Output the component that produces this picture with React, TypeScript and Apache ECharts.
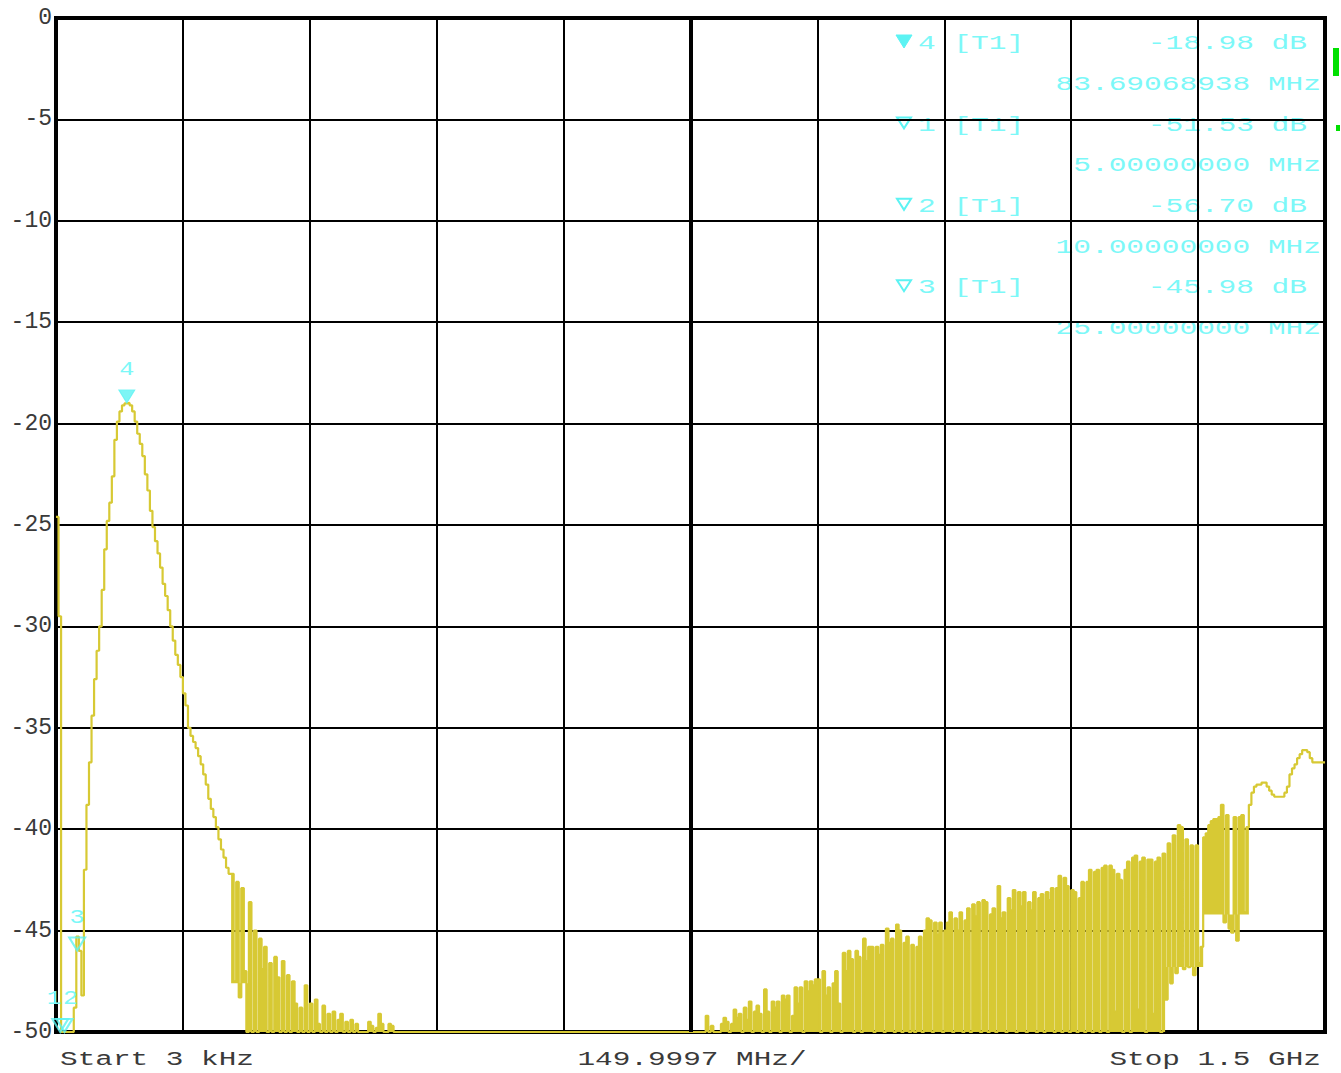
import { useEffect, useRef } from "react";
import * as echarts from "echarts";

// Sweep: 501 points from 3 kHz to 1.5 GHz
const startMHz = 0.003;
const stopMHz = 1500;
const sweepPoints = 501;
const refLevelDb = 0;
const bottomDb = -50;
const dbPerDiv = 5;
const mhzPerDiv = 150;

// Trace levels in dB, one per sweep point
const traceDb: number[] = [
  // 0-9
  -24.6, -29.5, -50, -50, -50, -50, -50, -48.8, -45.3, -46.0,
  // 10-19
  -48.2, -42.0, -38.8, -36.7, -34.4, -32.6, -31.2, -30.0, -28.2, -26.2,
  // 20-29
  -24.8, -23.9, -22.6, -20.8, -19.9, -19.4, -19.1, -19.0, -18.98, -19.1,
  // 30-39
  -19.4, -19.9, -20.5, -21.0, -21.6, -22.5, -23.3, -24.3, -25.1, -25.8,
  // 40-49
  -26.4, -27.1, -27.9, -28.5, -29.2, -30.0, -30.7, -31.4, -31.9, -32.5,
  // 50-59
  -33.3, -33.9, -35.0, -35.4, -35.7, -36.0, -36.4, -36.8, -37.3, -37.8,
  // 60-69
  -38.5, -39.0, -39.4, -39.9, -40.5, -41.0, -41.4, -41.9, -42.2, -42.2,
  // 70-79
  -47.5, -42.6, -48.3, -42.9, -47.0, -50, -43.6, -50, -45.0, -50,
  // 80-89
  -45.4, -46.9, -45.8, -50, -46.6, -50, -46.3, -47.3, -50, -46.5,
  // 90-99
  -50, -47.2, -50, -47.5, -48.6, -50, -48.8, -50, -47.7, -50,
  // 100-109
  -48.6, -50, -48.4, -49.6, -50, -48.7, -50, -49.1, -50, -49.0,
  // 110-119
  -50, -49.4, -49.1, -50, -49.5, -50, -49.4, -50, -49.6, -50,
  // 120-129
  -50, -50, -50, -49.5, -49.7, -50, -49.8, -49.1, -49.6, -50,
  // 130-139
  -50, -49.6, -49.7, -50, -50, -50, -50, -50, -50, -50,
  // 140-149
  -50, -50, -50, -50, -50, -50, -50, -50, -50, -50,
  // 150-159
  -50, -50, -50, -50, -50, -50, -50, -50, -50, -50,
  // 160-169
  -50, -50, -50, -50, -50, -50, -50, -50, -50, -50,
  // 170-179
  -50, -50, -50, -50, -50, -50, -50, -50, -50, -50,
  // 180-189
  -50, -50, -50, -50, -50, -50, -50, -50, -50, -50,
  // 190-199
  -50, -50, -50, -50, -50, -50, -50, -50, -50, -50,
  // 200-209
  -50, -50, -50, -50, -50, -50, -50, -50, -50, -50,
  // 210-219
  -50, -50, -50, -50, -50, -50, -50, -50, -50, -50,
  // 220-229
  -50, -50, -50, -50, -50, -50, -50, -50, -50, -50,
  // 230-239
  -50, -50, -50, -50, -50, -50, -50, -50, -50, -50,
  // 240-249
  -50, -50, -50, -50, -50, -50, -50, -50, -50, -50,
  // 250-259
  -50, -50, -50, -50, -50, -50, -49.2, -50, -49.7, -50,
  // 260-269
  -50, -50, -49.6, -49.3, -49.5, -50, -49.6, -48.9, -49.3, -49.1,
  // 270-279
  -50, -48.8, -49.4, -48.5, -50, -49.0, -48.7, -49.1, -50, -47.9,
  // 280-289
  -49.0, -50, -48.5, -48.8, -48.5, -50, -48.2, -48.4, -48.2, -50,
  // 290-299
  -49.2, -47.8, -48.6, -47.8, -50, -47.5, -48.0, -47.5, -47.7, -47.4,
  // 300-309
  -47.4, -50, -47.0, -48.2, -47.8, -50, -47.6, -47.0, -48.6, -50,
  // 310-319
  -46.1, -47.0, -46.0, -46.4, -50, -46.0, -46.3, -50, -45.4, -46.5,
  // 320-329
  -45.8, -45.8, -50, -45.8, -46.2, -45.7, -50, -44.9, -45.6, -45.4,
  // 330-339
  -50, -44.7, -45.0, -50, -45.6, -45.3, -50, -45.7, -50, -45.8,
  // 340-349
  -45.3, -50, -45.0, -44.4, -44.5, -50, -44.6, -45.2, -44.6, -50,
  // 350-359
  -45.0, -44.6, -44.1, -50, -44.4, -45.0, -44.1, -50, -44.5, -43.9,
  // 360-369
  -50, -43.7, -44.3, -43.6, -50, -43.5, -43.6, -50, -44.2, -43.9,
  // 370-379
  -50, -42.8, -44.4, -44.1, -50, -43.4, -44.0, -43.0, -50, -43.1,
  // 380-389
  -43.8, -43.1, -50, -43.6, -44.0, -43.1, -50, -43.4, -43.2, -50,
  // 390-399
  -43.1, -43.5, -42.9, -50, -42.9, -42.3, -50, -42.4, -42.8, -50,
  // 400-409
  -43.0, -43.1, -50, -43.4, -42.6, -50, -42.6, -42.0, -50, -42.1,
  // 410-419
  -42.0, -50, -41.9, -41.8, -50, -41.8, -42.0, -49.0, -42.2, -42.5,
  // 420-429
  -50, -42.0, -41.6, -50, -41.4, -41.3, -48.9, -41.6, -41.4, -50,
  // 430-439
  -41.5, -41.5, -49.1, -41.6, -41.4, -50, -41.2, -48.4, -40.7, -47.6,
  // 440-449
  -40.3, -47.1, -39.8, -39.9, -46.9, -40.5, -46.8, -40.8, -47.2, -40.8,
  // 450-459
  -46.6, -45.8, -40.4, -40.2, -39.8, -39.6, -39.5, -39.5, -39.4, -38.8,
  // 460-469
  -44.6, -39.3, -44.9, -45.1, -39.4, -45.5, -39.4, -39.3, -44.1, -39.9,
  // 470-479
  -38.8, -38.2, -37.9, -37.8, -37.8, -37.7, -37.7, -37.9, -38.1, -38.3,
  // 480-489
  -38.4, -38.4, -38.4, -38.4, -38.2, -37.9, -37.3, -37.0, -36.8, -36.5,
  // 490-499
  -36.3, -36.1, -36.1, -36.2, -36.5, -36.7, -36.7, -36.7, -36.7, -36.7,
  // 500
  -36.7,
];

// Sweep-point ranges where the noise trace looks filled, and the level it fills down to
const fillFrom = [69, 75, 254, 436, 452];
const fillTo = [75, 134, 436, 451, 469];
const fillDownToDb = [-47.6, -50, -50, -46.8, -44.2];

// Markers (table order)
const markerNames = ["4", "1", "2", "3"];
const markerFreqMHz = [83.69068938, 5.0, 10.0, 25.0];
const markerLevelDb = [-18.98, -51.53, -56.7, -45.98];
const markerFilled = [true, false, false, false];
const markerTrace = "[T1]";

const startLabel = "Start 3 kHz";
const spanLabel = "149.9997 MHz/";
const stopLabel = "Stop 1.5 GHz";

const TRACE = "#D7C934";
const CYAN = "#5CF3F3";
const CYAN_TEXT = "#7CF8F8";
const GREY = "#3a3a3a";
const MONO = '"Liberation Mono", "DejaVu Sans Mono", monospace';
const DOWN_TRIANGLE = "path://M0,0 L16,0 L8,13 Z";

export default function App() {
  const ref = useRef<HTMLDivElement>(null);

  useEffect(() => {
    if (!ref.current) return;
    const chart = echarts.init(ref.current, null, { renderer: "svg" });
    const step = (stopMHz - startMHz) / (sweepPoints - 1);
    const freqAt = (i: number) => startMHz + i * step;
    const trace = traceDb.map((v, i) => [freqAt(i), v]);
    const shownLevel = (k: number) => Math.max(markerLevelDb[k], bottomDb);

    const fillSeries = fillFrom.map((from, k) => ({
      type: "line",
      data: traceDb.map((v, i) => [freqAt(i), i >= from && i <= fillTo[k] ? v : "-"]),
      step: "end",
      showSymbol: false,
      symbol: "none",
      connectNulls: false,
      lineStyle: { width: 0, color: TRACE },
      areaStyle: {
        color: TRACE,
        opacity: 1,
        origin: fillDownToDb[k] <= bottomDb ? "start" : fillDownToDb[k],
      },
      z: 2,
      silent: true,
    }));

    const markerData = markerNames.map((n, k) => ({
      name: n,
      value: [markerFreqMHz[k], shownLevel(k)],
      itemStyle: markerFilled[k]
        ? { color: CYAN, borderColor: CYAN, borderWidth: 1 }
        : { color: "rgba(255,255,255,0)", borderColor: CYAN, borderWidth: 2 },
    }));

    // marker table (top right)
    const graphics: any[] = [];
    const sx = 1.475;
    const textStyle = (text: string, align: string, fill: string, size = 20) => ({
      text,
      font: `${size}px ${MONO}`,
      fill,
      align,
      textAlign: align,
      verticalAlign: "middle",
      textVerticalAlign: "middle",
    });
    markerNames.forEach((n, k) => {
      const yDb = 44 + 81.4 * k;
      const yF = yDb + 40.7;
      const tri = markerFilled[k]
        ? {
            type: "polygon",
            shape: { points: [[896, yDb - 9], [912, yDb - 9], [904, yDb + 4]] },
            style: { fill: CYAN, stroke: CYAN, lineWidth: 1 },
          }
        : {
            type: "polygon",
            shape: { points: [[897, yDb - 8], [911, yDb - 8], [904, yDb + 3]] },
            style: { fill: "none", stroke: CYAN, lineWidth: 2 },
          };
      graphics.push(tri);
      graphics.push({ type: "text", x: 918, y: yDb, scaleX: sx, style: textStyle(`${n} ${markerTrace}`, "left", CYAN_TEXT) });
      graphics.push({ type: "text", x: 1307, y: yDb, scaleX: sx, style: textStyle(`${markerLevelDb[k].toFixed(2)} dB`, "right", CYAN_TEXT) });
      graphics.push({ type: "text", x: 1321, y: yF, scaleX: sx, style: textStyle(`${markerFreqMHz[k].toFixed(8)} MHz`, "right", CYAN_TEXT) });
    });

    const bottomText = (text: string, x: number, align: string) => ({
      type: "text",
      x,
      y: 1060,
      scaleX: 1.47,
      style: textStyle(text, align, GREY),
    });
    graphics.push(bottomText(startLabel, 60, "left"));
    graphics.push(bottomText(spanLabel, 692, "center"));
    graphics.push(bottomText(stopLabel, 1321, "right"));
    graphics.push({ type: "rect", shape: { x: 1333, y: 48, width: 6, height: 28 }, style: { fill: "#00E000" } });
    graphics.push({ type: "rect", shape: { x: 1336, y: 125, width: 4, height: 6 }, style: { fill: "#00E000" } });

    const option: any = {
      animation: false,
      backgroundColor: "#ffffff",
      grid: {
        left: 56,
        top: 18,
        width: 1269,
        height: 1014,
        show: true,
        borderColor: "#000",
        borderWidth: 4,
        backgroundColor: "#fff",
        containLabel: false,
        outerBoundsMode: "none",
      },
      xAxis: {
        type: "value",
        min: 0,
        max: stopMHz,
        interval: mhzPerDiv,
        axisLine: { show: false },
        axisTick: { show: false },
        axisLabel: { show: false },
        splitLine: { show: true, lineStyle: { color: "#000", width: 2 } },
      },
      yAxis: {
        type: "value",
        min: bottomDb,
        max: refLevelDb,
        interval: dbPerDiv,
        axisLine: { show: false },
        axisTick: { show: false },
        axisLabel: {
          show: true,
          margin: 4,
          color: GREY,
          fontFamily: MONO,
          fontSize: 23,
          verticalAlign: "middle",
          padding: [0, 0, 6, 0],
        },
        splitLine: { show: true, lineStyle: { color: "#000", width: 2 } },
      },
      series: [
        ...fillSeries,
        {
          type: "line",
          data: trace,
          step: "end",
          showSymbol: false,
          symbol: "none",
          lineStyle: { color: TRACE, width: 2.2 },
          z: 3,
          silent: true,
          markLine: {
            silent: true,
            symbol: "none",
            label: { show: false },
            lineStyle: { color: "#000", width: 4, type: "solid" },
            data: [{ xAxis: 5 * mhzPerDiv }],
          },
        },
        {
          type: "scatter",
          data: markerData,
          symbol: DOWN_TRIANGLE,
          symbolSize: [16, 13],
          symbolOffset: [0, -6.5],
          z: 5,
          silent: true,
        },
      ],
      graphic: graphics,
    };

    chart.setOption(option);

    // marker numbers above the marker triangles, placed through the chart's own scales
    const labelDx: Record<string, number> = { "1": -6, "2": 6 };
    const markerLabels = markerNames.map((n, k) => {
      const p = chart.convertToPixel({ gridIndex: 0 }, [markerFreqMHz[k], shownLevel(k)]) as number[];
      return {
        type: "text",
        x: p[0] + (labelDx[n] || 0),
        y: p[1] - 33,
        z: 10,
        scaleX: 1.2,
        style: textStyle(n, "center", CYAN_TEXT, 21),
      };
    });
    chart.setOption({ graphic: [...graphics, ...markerLabels] });

    return () => chart.dispose();
  }, []);

  return (
    <div
      ref={ref}
      style={{ position: "fixed", left: 0, top: 0, width: 1341, height: 1073, background: "#fff" }}
    />
  );
}
